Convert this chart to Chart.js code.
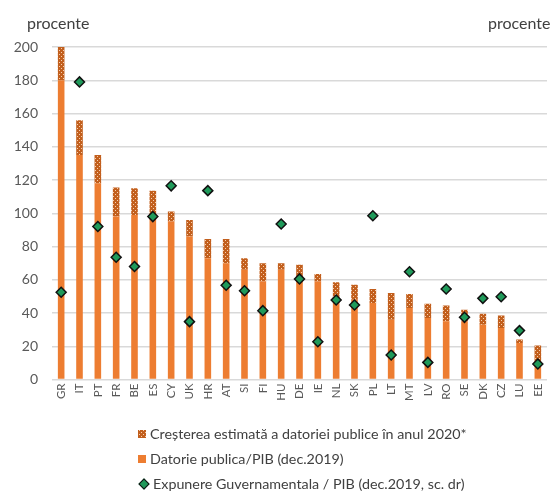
<!DOCTYPE html>
<html>
<head>
<meta charset="utf-8">
<script src="https://cdn.jsdelivr.net/npm/chart.js@4/dist/chart.umd.min.js"></script>
<style>
  html, body { margin: 0; padding: 0; background: #fff; }
  body { width: 558px; height: 491px; position: relative; overflow: hidden; font-family: Lato, "Open Sans", sans-serif; }
  #chart { position: absolute; left: 0; top: 0; }
  .unit { position: absolute; top: 13px; font-size: 16px; color: #404040; }
  #legend { position: absolute; left: 138px; top: 421px; font-size: 14.3px; color: #404040; }
  .li { height: 25px; line-height: 22px; display: flex; align-items: center; white-space: nowrap; }
  .sw { width: 8px; height: 8px; margin-right: 4px; display: inline-block; }
  .dia { width: 6px; height: 6px; margin: 0 5px 0 2px; background: #1f9a5a; border: 1.3px solid #111; transform: rotate(45deg); display: inline-block; }
</style>
</head>
<body>
<canvas id="chart" width="558" height="405"></canvas>
<div class="unit" style="left:27px">procente</div>
<div class="unit" style="left:488px">procente</div>
<div id="legend"></div>
<script>
const categories = ["GR","IT","PT","FR","BE","ES","CY","UK","HR","AT","SI","FI","HU","DE","IE","NL","SK","PL","LT","MT","LV","RO","SE","DK","CZ","LU","EE"];
const datoriePublica2019 = [180, 135, 118, 98, 99, 96, 95, 86, 73, 70, 66, 59, 66, 60, 59, 49, 48, 46, 36, 43, 37, 35, 35, 33, 31, 22, 8];
const cresterea2020 = [20, 21, 17, 17.5, 16, 17.5, 6, 10, 11.5, 14.5, 7, 11, 4, 9, 4.5, 9.5, 9, 8.5, 16, 8.5, 8.5, 9.5, 7, 6.5, 7.5, 2, 12.5];
const expunereGuv = [52.5, 179, 92, 73.5, 68, 98, 116.5, 34.8, 113.6, 56.7, 53.4, 41.4, 93.5, 60.5, 22.7, 47.8, 44.8, 98.5, 14.7, 64.8, 10.3, 54.4, 37.4, 48.8, 49.8, 29.4, 9.3];
const yTicks = [0, 20, 40, 60, 80, 100, 120, 140, 160, 180, 200];

const legendLabels = [
  "Creșterea estimată a datoriei publice în anul 2020*",
  "Datorie publica/PIB (dec.2019)",
  "Expunere Guvernamentala / PIB (dec.2019, sc. dr)"
];

function makePatternCanvas() {
  const c = document.createElement('canvas');
  c.width = 4; c.height = 4;
  const g = c.getContext('2d');
  g.fillStyle = '#c25f1d';
  g.fillRect(0, 0, 4, 4);
  g.fillStyle = '#f7cfae';
  g.fillRect(1, 0, 1, 1);
  g.fillRect(3, 2, 1, 1);
  return c;
}
const patCanvas = makePatternCanvas();
const ctx = document.getElementById('chart').getContext('2d');
const pattern = ctx.createPattern(patCanvas, 'repeat');

const orange = '#ed7d31';

new Chart(ctx, {
  data: {
    labels: categories,
    datasets: [
      {
        type: 'bar',
        label: legendLabels[1],
        data: datoriePublica2019,
        backgroundColor: orange,
        stack: 's',
        categoryPercentage: 1,
        barPercentage: 0.36,
        order: 1
      },
      {
        type: 'bar',
        label: legendLabels[0],
        data: cresterea2020,
        backgroundColor: pattern,
        stack: 's',
        categoryPercentage: 1,
        barPercentage: 0.36,
        order: 1
      },
      {
        type: 'scatter',
        label: legendLabels[2],
        data: expunereGuv,
        yAxisID: 'y1',
        showLine: false,
        pointStyle: 'rectRot',
        pointRadius: 5,
        pointBackgroundColor: '#1f9a5a',
        pointBorderColor: '#111',
        pointBorderWidth: 1.5,
        order: 0
      }
    ]
  },
  options: {
    responsive: false,
    animation: false,
    layout: { padding: { left: 0, right: 11, top: 47, bottom: 0 } },
    plugins: { legend: { display: false }, tooltip: { enabled: false } },
    scales: {
      x: {
        type: 'category',
        stacked: true,
        offset: true,
        grid: { display: false, drawTicks: false },
        border: { display: false },
        ticks: { minRotation: 90, maxRotation: 90, padding: 4, color: '#595959', font: { family: 'Lato', size: 11.5 } },
        afterFit: (s) => { s.height = 25.5; }
      },
      y: {
        stacked: true,
        min: 0, max: 200,
        afterBuildTicks: (s) => { s.ticks = yTicks.map(v => ({ value: v })); },
        grid: { color: '#d9d9d9', lineWidth: 1.5, drawTicks: false },
        border: { display: false },
        ticks: { padding: 14, color: '#595959', font: { family: 'Lato', size: 14 } },
        afterFit: (s) => { s.width = 52; }
      },
      y1: {
        display: false,
        min: 0, max: 200
      }
    }
  }
});

// HTML legend
const legend = document.getElementById('legend');
legendLabels.forEach((t, i) => {
  const row = document.createElement('div');
  row.className = 'li';
  if (i === 0) {
    const c = document.createElement('canvas');
    c.width = 8; c.height = 8; c.className = 'sw';
    const g = c.getContext('2d');
    g.fillStyle = g.createPattern(patCanvas, 'repeat');
    g.fillRect(0, 0, 8, 8);
    row.appendChild(c);
  } else if (i === 1) {
    const s = document.createElement('span');
    s.className = 'sw'; s.style.background = orange;
    row.appendChild(s);
  } else {
    const s = document.createElement('span');
    s.className = 'dia';
    row.appendChild(s);
  }
  const span = document.createElement('span');
  span.textContent = t;
  row.appendChild(span);
  legend.appendChild(row);
});
</script>
</body>
</html>
